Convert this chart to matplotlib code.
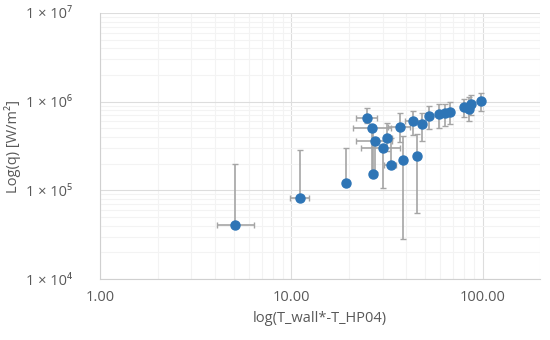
import numpy as np
import matplotlib
matplotlib.use("Agg")
import matplotlib.pyplot as plt
from matplotlib.ticker import FixedLocator, FixedFormatter, NullFormatter

plt.rcParams['font.family'] = ['Open Sans', 'DejaVu Sans']

dT = [5.1, 11.1, 19.3, 25.0, 26.5, 27.5, 26.9, 30.2, 31.6, 33.3, 37.0, 38.5,
      43.3, 45.5, 48.2, 52.4, 58.9, 63.8, 67.3, 79.8, 84.8, 86.8, 97.7]
q = [4.1e4, 8.2e4, 1.21e5, 6.5e5, 5.05e5, 3.63e5, 1.52e5, 3.03e5, 3.87e5, 1.93e5,
     5.2e5, 2.2e5, 6.06e5, 2.42e5, 5.56e5, 6.84e5, 7.2e5, 7.5e5, 7.7e5, 8.7e5,
     8.3e5, 9.3e5, 1.03e6]
# Fehlerbalken als Grenzen
dT_lo = [4.1, 9.9, 18.8, 21.7, 21.0, 21.7, 26.4, 23.2, 30.5, 30.7, 32.0, 38.5,
         39.5, 45.5, 46.5, 51.0, 57.5, 62.5, 66.0, 78.0, 83.5, 85.5, 96.5]
dT_hi = [6.4, 12.3, 19.8, 27.9, 33.3, 33.8, 27.6, 36.9, 33.5, 35.4, 41.5, 38.5,
         47.5, 45.5, 50.0, 54.0, 60.5, 65.0, 68.5, 81.5, 86.0, 88.0, 99.0]
q_lo = [4.1e4, 8.2e4, 1.21e5, 5.7e5, 1.6e5, 1.6e5, 1.52e5, 1.07e5, 2.8e5, 1.93e5,
        3.5e5, 2.8e4, 4.2e5, 5.6e4, 3.6e5, 4.9e5, 5.1e5, 5.3e5, 5.56e5, 6.7e5,
        6.1e5, 7.0e5, 7.8e5]
q_hi = [2.0e5, 2.85e5, 3.0e5, 8.5e5, 5.05e5, 3.63e5, 5.0e5, 3.03e5, 5.7e5, 3.9e5,
        7.4e5, 4.1e5, 7.9e5, 4.3e5, 7.5e5, 9.0e5, 9.3e5, 9.5e5, 9.9e5, 1.07e6,
        1.14e6, 1.2e6, 1.26e6]

ytick_werte = [1e4, 1e5, 1e6, 1e7]
ytick_labels = ["1 × 10⁴", "1 × 10⁵", "1 × 10⁶", "1 × 10⁷"]
xtick_werte = [1, 10, 100]
xtick_labels = ["1.00", "10.00", "100.00"]


def main():
    x = np.array(dT)
    y = np.array(q)
    xerr = [x - np.array(dT_lo), np.array(dT_hi) - x]
    yerr = [y - np.array(q_lo), np.array(q_hi) - y]

    fig = plt.figure(figsize=(5.5, 3.4), dpi=100)
    ax = fig.add_axes([0.182, 0.179, 0.8, 0.783])

    ax.errorbar(x, y, xerr=xerr, yerr=yerr, fmt='o', color='#2E75B6',
                markersize=6.5, ecolor='#A5A5A5', elinewidth=1.2, capsize=2,
                capthick=1, zorder=3)

    ax.set_xscale('log')
    ax.set_yscale('log')
    ax.set_xlim(1, 200)
    ax.set_ylim(1e4, 1e7)

    ax.xaxis.set_major_locator(FixedLocator(xtick_werte))
    ax.xaxis.set_major_formatter(FixedFormatter(xtick_labels))
    ax.yaxis.set_major_locator(FixedLocator(ytick_werte))
    ax.yaxis.set_major_formatter(FixedFormatter(ytick_labels))
    ax.xaxis.set_minor_formatter(NullFormatter())
    ax.yaxis.set_minor_formatter(NullFormatter())

    # Gitter wie in Excel
    ax.grid(True, which='major', color='#DDDDDD', linewidth=0.8)
    ax.grid(True, which='minor', color='#F3F3F3', linewidth=0.8)
    ax.set_axisbelow(True)

    ax.tick_params(which='both', length=0, colors='#595959', labelsize=10.5)
    ax.tick_params(axis='x', pad=8)
    ax.tick_params(axis='y', pad=20)
    for s in ['top', 'right']:
        ax.spines[s].set_visible(False)
    for s in ['left', 'bottom']:
        ax.spines[s].set_color('#D0D0D0')

    ax.set_xlabel('log(T_wall*-T_HP04)', fontsize=10.5, color='#595959', labelpad=4)
    ax.set_ylabel('Log(q) [W/m²]', fontsize=10.5, color='#595959', labelpad=4)

    fig.savefig('out.png', dpi=100)


main()
